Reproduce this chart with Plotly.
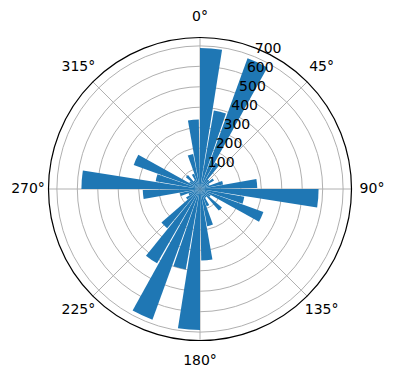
import plotly.graph_objects as go

# sector start angles (degrees, clockwise from north)
sector_start = list(range(0, 360, 10))
counts = [690, 390, 680, 150, 60, 80, 50, 115, 280,
          580, 220, 330, 60, 140, 50, 90, 185, 350,
          690, 400, 680, 420, 250, 80, 60, 100, 280,
          580, 220, 345, 60, 90, 50, 80, 175, 340]
bar_width = 9
r_max = 741
radial_ticks = [100, 200, 300, 400, 500, 600, 700]
radial_label_theta = 22.5
angle_ticks = [0, 45, 90, 135, 180, 225, 270, 315]
angle_labels = [f"{a}°" for a in angle_ticks]

theta_centers = [s + bar_width / 2 for s in sector_start]

fig = go.Figure()
fig.add_trace(go.Barpolar(
    r=counts, theta=theta_centers, width=[bar_width] * len(counts),
    marker=dict(color="#1f77b4", line=dict(width=0)),
    hoverinfo="r+theta", subplot="polar",
))
fig.add_trace(go.Scatterpolar(
    r=radial_ticks, theta=[radial_label_theta] * len(radial_ticks),
    mode="text", text=[str(v) for v in radial_ticks],
    textposition="top right",
    textfont=dict(family="DejaVu Sans", size=14, color="black"),
    hoverinfo="skip", subplot="polar",
))
# angular tick labels on an invisible, concentric, larger polar subplot
fig.add_trace(go.Scatterpolar(
    r=[1] * len(angle_ticks), theta=angle_ticks,
    mode="text", text=angle_labels,
    textposition="middle center", cliponaxis=False,
    textfont=dict(family="DejaVu Sans", size=14, color="black"),
    hoverinfo="skip", subplot="polar2",
))

cx, cy, rad = 200, 189, 151.5
lab_rad = 172


def dom(rr):
    return dict(x=[(cx - rr) / 396, (cx + rr) / 396],
                y=[(380 - cy - rr) / 380, (380 - cy + rr) / 380])


fig.update_layout(
    width=396, height=380,
    margin=dict(l=0, r=0, t=0, b=0),
    paper_bgcolor="white",
    showlegend=False,
    font=dict(family="DejaVu Sans", size=14, color="black"),
    polar=dict(
        domain=dom(rad),
        bgcolor="white",
        bargap=0,
        angularaxis=dict(
            direction="clockwise", rotation=90,
            tickvals=angle_ticks, showticklabels=False,
            showline=True, linecolor="black", linewidth=1.2,
            showgrid=True, gridcolor="#b0b0b0", gridwidth=0.8,
            ticks="",
        ),
        radialaxis=dict(
            range=[0, r_max], angle=67.5,
            tickvals=radial_ticks, showticklabels=False,
            showline=False, ticks="",
            showgrid=True, gridcolor="#b0b0b0", gridwidth=0.8,
        ),
    ),
    polar2=dict(
        domain=dom(lab_rad),
        bgcolor="rgba(0,0,0,0)",
        angularaxis=dict(
            direction="clockwise", rotation=90,
            showticklabels=False, showline=False, showgrid=False, ticks="",
        ),
        radialaxis=dict(
            range=[0, 1], visible=False,
            showticklabels=False, showline=False, showgrid=False, ticks="",
        ),
    ),
)

fig.write_html("out.html")
